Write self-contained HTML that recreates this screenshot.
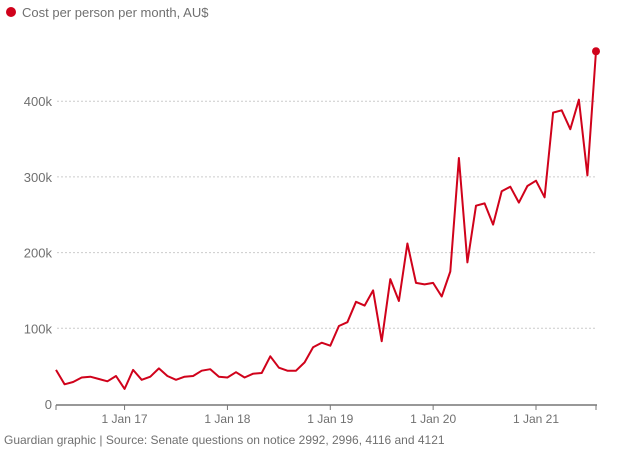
<!DOCTYPE html>
<html><head><meta charset="utf-8"><style>
body{margin:0;background:#fff;font-family:"Liberation Sans",sans-serif}
svg text{font-family:"Liberation Sans",sans-serif}
</style></head><body>
<svg width="624" height="448" id="c">
<circle cx="11" cy="12" r="5" fill="#d0021b"/>
<text x="22" y="17" font-size="13" fill="#707070">Cost per person per month, AU$</text>
<g id="grid"></g><g id="xaxis"></g>
<path id="line" fill="none" stroke="#d0021b" stroke-width="2" stroke-linejoin="round"/>
<circle id="last" r="4" fill="#d0021b"/>
<text x="4" y="444" font-size="12" fill="#707070">Guardian graphic | Source: Senate questions on notice 2992, 2996, 4116 and 4121</text>
</svg>
<script>
const values=[45,26,29,35,36,33,30,37,20,45,32,36,47,37,32,36,37,44,46,36,35,42,35,40,41,63,48,44,44,55,75,81,77,103,108,135,130,150,83,165,136,212,160,158,160,142,175,325,187,262,265,237,281,287,266,288,295,273,385,388,363,402,302,466];
const yTicks=[0,100,200,300,400];
const yTickLabels=["0","100k","200k","300k","400k"];
const xTickLabels=["1 Jan 17","1 Jan 18","1 Jan 19","1 Jan 20","1 Jan 21"];
const xTickMonths=[8,20,32,44,56];
const ns="http://www.w3.org/2000/svg";
const x0=56,x1=596,y0=404,pxPer100=75.7;
const X=i=>x0+i*(x1-x0)/(values.length-1);
const Y=v=>y0-v*pxPer100/100;
const grid=document.getElementById('grid'),xa=document.getElementById('xaxis');
function mk(tag,attrs,parent){const e=document.createElementNS(ns,tag);for(const k in attrs)e.setAttribute(k,attrs[k]);parent.appendChild(e);return e;}
yTicks.forEach((t,i)=>{
 if(t>0){const l=mk('line',{x1:57,x2:597,y1:Y(t),y2:Y(t),stroke:'#ccc','stroke-dasharray':'2,2'},grid);
 
 }
 const tx=mk('text',{x:52,y:Y(t)+5,'text-anchor':'end','font-size':13,fill:'#707070'},grid);
 tx.textContent=yTickLabels[i];
 
 
});
const ax=mk('line',{x1:56,x2:597,y1:405,y2:405,stroke:'#777','stroke-width':1.5},xa);


[x0,x1].forEach(x=>{const t=mk('line',{x1:x,x2:x,y1:405,y2:410,stroke:'#777'},xa);
 
 });
xTickLabels.forEach((lab,i)=>{
 const x=X(xTickMonths[i]);
 const t=mk('line',{x1:x,x2:x,y1:405,y2:410,stroke:'#777'},xa);
 
 
 const tx=mk('text',{x:x,y:423,'text-anchor':'middle','font-size':12,fill:'#707070'},xa);
 tx.textContent=lab;
 
 
});
document.getElementById('line').setAttribute('d',values.map((v,i)=>(i?'L':'M')+X(i).toFixed(1)+','+Y(v).toFixed(1)).join(''));
const last=document.getElementById('last');
last.setAttribute('cx',X(values.length-1));last.setAttribute('cy',Y(values[values.length-1]));
</script>
</body></html>
